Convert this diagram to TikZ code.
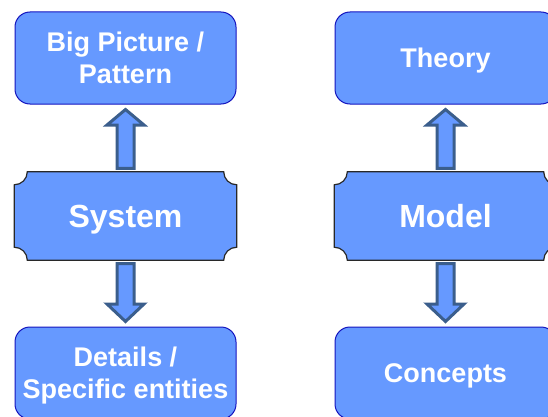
\documentclass[tikz,border=0pt]{standalone}
\usepackage{fontspec}
\setmainfont{Liberation Sans}
\usetikzlibrary{backgrounds}

\definecolor{boxblue}{RGB}{102,153,255}
\definecolor{boxline}{RGB}{20,20,190}
\definecolor{arrowline}{RGB}{59,94,140}
\definecolor{plaqueline}{RGB}{40,40,40}

\begin{document}
\begin{tikzpicture}[x=1pt,y=1pt,
        box/.style={rectangle,rounded corners=15,draw=boxline,line width=1,fill=boxblue,text=white,
                font=\bfseries\fontsize{27}{32}\selectfont,align=center,minimum width=221,minimum height=92,inner sep=0,
                text height=19.5,text depth=0},
        twolines/.style={text height=51.5},
        plaque/.style={text=white,font=\bfseries\fontsize{32}{38}\selectfont,minimum width=222,minimum height=88,inner sep=0,
                text height=23,text depth=0},
        plaqueedge/.style={draw=plaqueline,line width=1.2,fill=boxblue},
        blockarrow/.style={draw=arrowline,line width=3,fill=boxblue,line join=miter}]
                \useasboundingbox (0,0) rectangle (548,416);

                % left column
                \node[box,twolines] (big) at (125.5,358){Big Picture /\\Pattern};
                \node[plaque] (sys) at (125.5,200){System};
                \node[box,twolines] (det) at (125.5,43){Details /\\Specific entities};

                % right column
                \node[box] (theo) at (445.5,358){Theory};
                \node[plaque] (mod) at (445.5,200){Model};
                \node[box] (conc) at (445.5,43){Concepts};

                % plaques with cut-in corners
                \begin{scope}[on background layer]
                \filldraw[plaqueedge] ([xshift=13]sys.north west) -- ([xshift=-13]sys.north east)
                        arc[start angle=180,end angle=270,radius=13] -- ([yshift=13]sys.south east)
                        arc[start angle=90,end angle=180,radius=13] -- ([xshift=13]sys.south west)
                        arc[start angle=0,end angle=90,radius=13] -- ([yshift=-13]sys.north west)
                        arc[start angle=270,end angle=360,radius=13] -- cycle;
                \filldraw[plaqueedge] ([xshift=13]mod.north west) -- ([xshift=-13]mod.north east)
                        arc[start angle=180,end angle=270,radius=13] -- ([yshift=13]mod.south east)
                        arc[start angle=90,end angle=180,radius=13] -- ([xshift=13]mod.south west)
                        arc[start angle=0,end angle=90,radius=13] -- ([yshift=-13]mod.north west)
                        arc[start angle=270,end angle=360,radius=13] -- cycle;
                \end{scope}

                % block arrows
                \draw[blockarrow] ([xshift=-8.5,yshift=3.5]sys.north) -- ([xshift=-8.5,yshift=-20.5]big.south)
                        -- ([xshift=-18.5,yshift=-20.5]big.south) -- ([yshift=-5]big.south)
                        -- ([xshift=18.5,yshift=-20.5]big.south) -- ([xshift=8.5,yshift=-20.5]big.south)
                        -- ([xshift=8.5,yshift=3.5]sys.north) -- cycle;
                \draw[blockarrow] ([xshift=-8.5,yshift=-3.5]sys.south) -- ([xshift=-8.5,yshift=22.5]det.north)
                        -- ([xshift=-18.5,yshift=22.5]det.north) -- ([yshift=5]det.north)
                        -- ([xshift=18.5,yshift=22.5]det.north) -- ([xshift=8.5,yshift=22.5]det.north)
                        -- ([xshift=8.5,yshift=-3.5]sys.south) -- cycle;
                \draw[blockarrow] ([xshift=-8.5,yshift=3.5]mod.north) -- ([xshift=-8.5,yshift=-20.5]theo.south)
                        -- ([xshift=-18.5,yshift=-20.5]theo.south) -- ([yshift=-5]theo.south)
                        -- ([xshift=18.5,yshift=-20.5]theo.south) -- ([xshift=8.5,yshift=-20.5]theo.south)
                        -- ([xshift=8.5,yshift=3.5]mod.north) -- cycle;
                \draw[blockarrow] ([xshift=-8.5,yshift=-3.5]mod.south) -- ([xshift=-8.5,yshift=22.5]conc.north)
                        -- ([xshift=-18.5,yshift=22.5]conc.north) -- ([yshift=5]conc.north)
                        -- ([xshift=18.5,yshift=22.5]conc.north) -- ([xshift=8.5,yshift=22.5]conc.north)
                        -- ([xshift=8.5,yshift=-3.5]mod.south) -- cycle;
        \end{tikzpicture}
\end{document}
